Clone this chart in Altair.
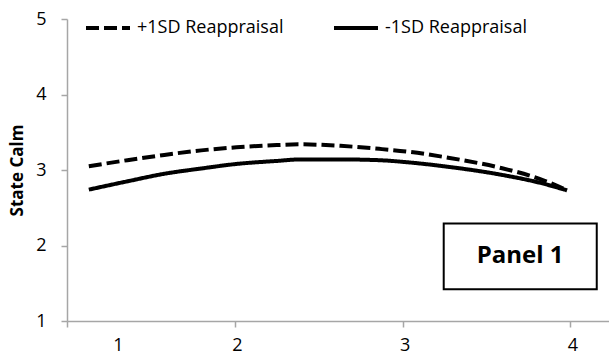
import altair as alt
import pandas as pd

# Fitted State Calm trajectories at +/-1 SD of reappraisal
time_points = [1.13, 1.36, 1.58, 1.80, 2.01, 2.25, 2.39, 2.63, 2.86, 3.04, 3.28, 3.58, 3.82, 3.98]
plus_sd = [3.05, 3.13, 3.20, 3.26, 3.30, 3.33, 3.34, 3.32, 3.28, 3.24, 3.16, 3.03, 2.88, 2.73]
minus_sd = [2.74, 2.85, 2.95, 3.02, 3.08, 3.12, 3.14, 3.14, 3.13, 3.10, 3.04, 2.94, 2.83, 2.73]
series_names = ["+1SD Reappraisal", "-1SD Reappraisal"]

x_ticks = [1, 2, 3, 4]
y_ticks = [1, 2, 3, 4, 5]

panel_label = ["Panel 1"]
panel_box = {"x": 3.245, "x2": 4.157, "y": 1.42, "y2": 2.29, "cx": 3.70, "cy": 1.86}

rows = []
for name, vals in zip(series_names, [plus_sd, minus_sd]):
    for t, v in zip(time_points, vals):
        rows.append({"series": name, "time": t, "calm": v})
df = pd.DataFrame(rows)

FONT = "Open Sans"
GREY = "#a6a6a6"
TEXT_SIZE = 18

x_scale = alt.Scale(domain=[1, 4.23], nice=False, zero=False)
y_scale = alt.Scale(domain=[1, 5], nice=False, zero=False)

x_axis = alt.Axis(
    values=x_ticks, title=None, grid=False,
    domainColor=GREY, tickColor=GREY, domainWidth=1.5, tickWidth=1.5, tickSize=6,
    labelFont=FONT, labelFontSize=TEXT_SIZE, labelColor="black", labelPadding=9,
    labelFlush=False, labelOverlap=False,
    labelOffset={"condition": {"test": "datum.value == 1", "value": 51}, "value": 2},
)
y_axis = alt.Axis(
    values=y_ticks, title="State Calm", grid=False,
    domainColor=GREY, tickColor=GREY, domainWidth=1.5, tickWidth=1.5, tickSize=6,
    labelFont=FONT, labelFontSize=TEXT_SIZE, labelColor="black", labelPadding=15,
    titleFont=FONT, titleFontSize=17, titleFontWeight="bold", titleColor="black",
    titlePadding=9,
)

lines = alt.Chart(df).mark_line(
    color="black", strokeWidth=4, interpolate="monotone", strokeCap="butt"
).encode(
    x=alt.X("time:Q", scale=x_scale, axis=x_axis),
    y=alt.Y("calm:Q", scale=y_scale, axis=y_axis),
    strokeDash=alt.StrokeDash(
        "series:N",
        scale=alt.Scale(domain=series_names, range=[[13, 5], [1, 0]]),
        legend=alt.Legend(
            title=None, orient="none", direction="horizontal",
            legendX=17, legendY=-15,
            symbolType="stroke", symbolSize=1936, symbolStrokeWidth=4,
            symbolStrokeColor="black",
            labelFont=FONT, labelFontSize=TEXT_SIZE, labelColor="black",
            labelOffset=5, columnPadding=42,
        ),
    ),
)

box_df = pd.DataFrame([{**panel_box, "label": panel_label[0]}])
box = alt.Chart(box_df).mark_rect(fill="white", stroke="black", strokeWidth=2).encode(
    x=alt.X("x:Q", scale=x_scale, axis=x_axis),
    x2="x2:Q",
    y=alt.Y("y:Q", scale=y_scale, axis=y_axis),
    y2="y2:Q",
)
box_text = alt.Chart(box_df).mark_text(
    font=FONT, fontSize=24, fontWeight="bold", color="black"
).encode(
    x=alt.X("cx:Q", scale=x_scale, axis=x_axis),
    y=alt.Y("cy:Q", scale=y_scale, axis=y_axis),
    text="label:N",
)

chart = alt.layer(lines, box, box_text).properties(
    width=542, height=302,
    autosize=alt.AutoSizeParams(type="none"),
    padding={"left": 67, "top": 19, "right": 0, "bottom": 37},
    background="white",
).configure_view(stroke=None)

chart.save("out.html", embed_options={"renderer": "svg", "actions": False})
